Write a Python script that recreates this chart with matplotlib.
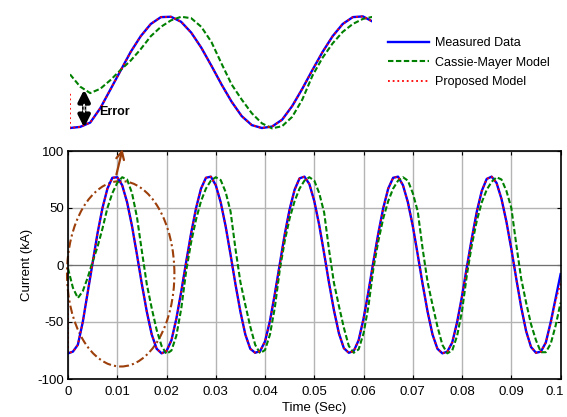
import numpy as np
import matplotlib
matplotlib.use('Agg')
import matplotlib.pyplot as plt
from matplotlib.patches import Ellipse
from matplotlib.transforms import ScaledTranslation

plt.rcParams['font.family'] = ['Liberation Sans', 'DejaVu Sans']
plt.rcParams['axes.unicode_minus'] = False

# sampled every 1 ms, 0 .. 0.1 s
t = np.arange(101) * 0.001

measured = [-77.5, -76, -70, -50, -24, 2, 28, 50, 67, 76.5, 77, 70, 55, 34, 9, -17, -41, -61, -73.5,
            -77.5, -75.5, -66, -47, -23, 3, 28, 50, 67, 76.5, 77.5, 70, 55, 34, 9, -17, -41, -61, -73.5,
            -77, -75.5, -67, -49, -25, 1, 27, 49, 66, 76, 77.5, 71, 56, 35, 10, -16, -40, -60, -73,
            -77, -75.5, -66, -47, -23, 3, 28, 50, 67, 76.5, 77.5, 70, 55, 34, 9, -17, -41, -61, -73.5,
            -77.5, -76, -68, -50, -27, -1, 24, 47, 65, 75.5, 77.5, 72, 58, 38, 14, -12, -37, -58, -72,
            -77, -76, -68, -50, -29, -8]

cassie = [-3, -20, -29, -23, -11, 3, 16, 32, 50, 63, 72, 77, 75, 63, 42, 12, -17, -38, -57,
          -71, -78, -75, -62, -38, -5, 20, 40, 56, 67, 74, 77, 74.5, 64, 47, 14, -15, -35, -54,
          -70, -77.5, -74.5, -61, -37, -4, 21, 41, 56, 67, 74, 77, 74, 63, 46, 13, -16, -36, -55,
          -71, -77, -74, -60, -36, -3, 21, 41, 56, 67, 74, 77, 74, 63, 47, 14, -15, -35, -54,
          -70, -77.5, -75, -62, -40, -8, 18, 39, 55, 66, 73, 77, 75, 65, 50, 18, -12, -33, -52,
          -66, -76.5, -76.5, -69, -53, -33]

# proposed model has an extra first sample at t = 0
proposed_t = np.concatenate([[0.0], t])
proposed = [-30,
            -77.5, -76, -70, -50, -24, 2, 28, 50, 67, 76.5, 77, 70, 55, 34, 9, -17, -41, -61, -73.5,
            -77.5, -75.5, -66, -47, -23, 3, 28, 50, 67, 76.5, 77.5, 70, 55, 34, 9, -17, -41, -61, -73.5,
            -77, -75.5, -67, -49, -25, 1, 27, 49, 66, 76, 77.5, 71, 56, 35, 10, -16, -40, -60, -73,
            -77, -75.5, -66, -47, -23, 3, 28, 50, 67, 76.5, 77.5, 70, 55, 34, 9, -17, -41, -61, -73.5,
            -77.5, -76, -68, -50, -27, -1, 24, 47, 65, 75.5, 77.5, 72, 58, 38, 14, -12, -37, -58, -72,
            -77, -76, -68, -51, -31, -16]

xticks = [0, 0.01, 0.02, 0.03, 0.04, 0.05, 0.06, 0.07, 0.08, 0.09, 0.1]
xlabels = ['0', '0.01', '0.02', '0.03', '0.04', '0.05', '0.06', '0.07', '0.08', '0.09', '0.1']
yticks = [-100, -50, 0, 50, 100]

brown = '#9c3f0a'

fig = plt.figure(figsize=(5.67, 4.17), dpi=100)
ax = fig.add_axes([68/567, 1-379/417, 492.6/567, 228/417])

ax.plot(t, measured, color='#0000ff', lw=1.7, label='Measured Data')
ax.plot(t, cassie, color='#008000', lw=1.5, ls=(0, (2.6, 1.2)), label='Cassie-Mayer Model')
ax.plot(proposed_t, proposed, color='#ff0000', lw=1.3, ls=(0, (1, 1.6)), label='Proposed Model')

ax.set_xlim(0, 0.1)
ax.set_ylim(-100, 100)
ax.set_xticks(xticks)
ax.set_xticklabels(xlabels)
ax.set_yticks(yticks)
ax.tick_params(direction='in', top=True, right=True, length=3, labelsize=9.5)
ax.tick_params(axis='x', pad=5)
ax.tick_params(axis='y', pad=3)
ax.grid(True, color='#b4b4b4', lw=1)
ax.axhline(0, color='#707070', lw=0.8, zorder=1)
ax.set_axisbelow(True)
for s in ax.spines.values():
    s.set_linewidth(1.2)
ax.set_xlabel('Time (Sec)', fontsize=9.5, labelpad=3)
ax.set_ylabel('Current (kA)', fontsize=9.5, labelpad=3)

# last tick label sits on the figure edge, nudge it in a bit
last = ax.get_xticklabels()[-1]
last.set_transform(last.get_transform() + ScaledTranslation(-4/72, 0, fig.dpi_scale_trans))

ell = Ellipse((0.0107, -7.7), 0.0218, 162.7, fill=False, ec=brown, lw=1.5,
              ls=(0, (4, 1.5, 1, 1.5)), clip_on=False)
ax.add_patch(ell)
ax.annotate('', xy=(0.0112, 104), xytext=(0.0097, 77),
            arrowprops=dict(arrowstyle='->', color=brown, lw=1.6, mutation_scale=14),
            annotation_clip=False)

# zoomed inset, no frame
ins = fig.add_axes([70/567, 1-129.8/417, 302/567, 115.2/417])
ins.plot(t, measured, color='#0000ff', lw=1.7)
ins.plot(t, cassie, color='#008000', lw=1.5, ls=(0, (2.6, 1.2)))
ins.plot(proposed_t, proposed, color='#ff0000', lw=1.3, ls=(0, (1, 1.6)))
ins.set_xlim(0, 0.0299)
ins.set_ylim(-80, 80)
ins.axis('off')
ins.annotate('', xy=(0.0014, -77), xytext=(0.0014, -24),
             arrowprops=dict(arrowstyle='<|-|>', color='k', lw=3, mutation_scale=17,
                             shrinkA=0, shrinkB=0))
ins.annotate('', xy=(0.0014, -57), xytext=(0.0014, -43),
             arrowprops=dict(arrowstyle='<->', color='w', lw=0.7, mutation_scale=4,
                             shrinkA=0, shrinkB=0))
ins.text(0.0029, -55, 'Error', fontsize=9, fontweight='bold', va='center', ha='left')

h, l = ax.get_legend_handles_labels()
fig.legend(h, l, loc='upper left', bbox_to_anchor=(388/567, 1-37/417), frameon=False,
           fontsize=9, handlelength=3.3, handletextpad=0.45, labelspacing=0.62,
           borderpad=0, borderaxespad=0)

fig.savefig('out.png', dpi=100)
